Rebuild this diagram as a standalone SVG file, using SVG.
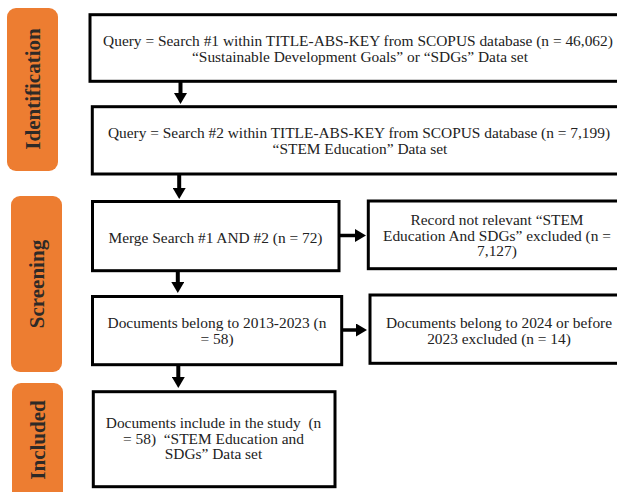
<svg xmlns="http://www.w3.org/2000/svg" width="617" height="492" viewBox="0 0 617 492">
<style>
.phase{fill:#ED7D31;}
.ptxt{font-family:"Liberation Serif","Times New Roman",serif;font-weight:bold;font-size:21px;fill:#2e2a27;text-anchor:middle;}
.box{fill:#ffffff;stroke:#000000;stroke-width:3;}
.t{font-family:"Liberation Serif","Times New Roman",serif;font-size:15.4px;fill:#222222;text-anchor:middle;}
.conn{stroke:#000000;stroke-width:4;fill:none;}
</style>
<defs>
<marker id="ah" viewBox="0 0 11 13" refX="0" refY="6.5" markerWidth="11" markerHeight="13" markerUnits="userSpaceOnUse" orient="auto">
<path d="M0,0 L11,6.5 L0,13 z" fill="#000000"/>
</marker>
</defs>
<rect width="617" height="492" fill="#ffffff"/>
<g id="phase-identification">
<rect class="phase" x="7" y="8" width="51" height="163" rx="9"/>
<text class="ptxt" transform="translate(40,89) rotate(-90)">Identification</text>
</g>
<g id="phase-screening">
<rect class="phase" x="11" y="196" width="51" height="176" rx="9"/>
<text class="ptxt" transform="translate(44,284) rotate(-90)">Screening</text>
</g>
<g id="phase-included">
<rect class="phase" x="12" y="383" width="51" height="125" rx="9"/>
<text class="ptxt" transform="translate(45,440) rotate(-90)">Included</text>
</g>
<g id="connectors">
<line class="conn" x1="180.5" y1="82" x2="180.5" y2="93" marker-end="url(#ah)"/>
<line class="conn" x1="179.2" y1="175" x2="179.2" y2="188" marker-end="url(#ah)"/>
<line class="conn" x1="177.8" y1="272" x2="177.8" y2="282" marker-end="url(#ah)"/>
<line class="conn" x1="178.3" y1="366" x2="178.3" y2="377" marker-end="url(#ah)"/>
<line class="conn" x1="340" y1="235.5" x2="355" y2="235.5" marker-end="url(#ah)" style="stroke-width:3.5"/>
<line class="conn" x1="342" y1="330" x2="356" y2="330" marker-end="url(#ah)" style="stroke-width:3.5"/>
</g>
<g id="node-search1">
<rect class="box" x="90" y="14.7" width="540" height="66.6"/>
<text class="t" x="358" y="46">Query = Search #1 within TITLE-ABS-KEY from SCOPUS database (n = 46,062)</text>
<text class="t" x="360" y="61.5">“Sustainable Development Goals” or “SDGs” Data set</text>
</g>
<g id="node-search2">
<rect class="box" x="92.3" y="106.7" width="540" height="67.3"/>
<text class="t" x="359" y="138">Query = Search #2 within TITLE-ABS-KEY from SCOPUS database (n = 7,199)</text>
<text class="t" x="360" y="153.5">“STEM Education” Data set</text>
</g>
<g id="node-merge">
<rect class="box" x="92.5" y="201.5" width="246.5" height="69.2"/>
<text class="t" x="215.5" y="243">Merge Search #1 AND #2 (n = 72)</text>
</g>
<g id="node-record-excluded">
<rect class="box" x="368.3" y="201" width="270" height="67.7"/>
<text class="t" x="497" y="225">Record not relevant “STEM</text>
<text class="t" x="497" y="240.5">Education And SDGs” excluded (n =</text>
<text class="t" x="497" y="256">7,127)</text>
</g>
<g id="node-documents-2013">
<rect class="box" x="92.5" y="296.5" width="249.2" height="68.2"/>
<text class="t" x="217" y="328">Documents belong to 2013-2023 (n</text>
<text class="t" x="217" y="343.5">= 58)</text>
</g>
<g id="node-documents-excluded">
<rect class="box" x="370" y="295" width="270" height="68.3"/>
<text class="t" x="499" y="328">Documents belong to 2024 or before</text>
<text class="t" x="499" y="343.5">2023 excluded (n = 14)</text>
</g>
<g id="node-included">
<rect class="box" x="93.3" y="391.7" width="241.7" height="95"/>
<text class="t" x="213.5" y="428" xml:space="preserve">Documents include in the study  (n</text>
<text class="t" x="213.5" y="443.5" xml:space="preserve">= 58)  “STEM Education and</text>
<text class="t" x="213.5" y="459">SDGs” Data set</text>
</g>
</svg>
